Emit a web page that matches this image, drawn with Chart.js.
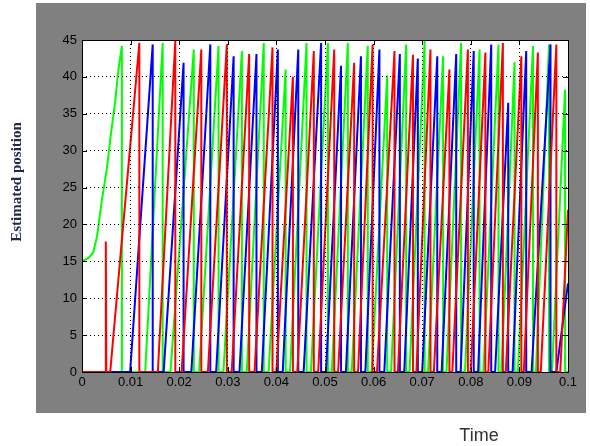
<!DOCTYPE html>
<html><head><meta charset="utf-8">
<script src="https://cdn.jsdelivr.net/npm/chart.js@4"></script>
<style>html,body{margin:0;padding:0;background:#fff;overflow:hidden}#wrap{width:590px;height:446px;position:relative}</style>
</head><body><div id="wrap"><canvas id="c"></canvas></div>
<script>
// ---- tick labels ----
const yTickValues = [0,5,10,15,20,25,30,35,40,45];
const xTickValues = [0,0.01,0.02,0.03,0.04,0.05,0.06,0.07,0.08,0.09,0.1];
const xTickLabels = ['0','0.01','0.02','0.03','0.04','0.05','0.06','0.07','0.08','0.09','0.1'];

// ---- green series ----
const greenInitT = [0,0.0014,0.0023,0.0031,0.0040,0.0051,0.0059,0.0068,0.0075,0.0082];
const greenInitV = [15,15.5,16.2,18.4,22.9,27.5,32.0,36.5,41.0,44.2];
const greenStart = [0.0130,0.0182,0.0241,0.0291,0.0339,0.0384,0.0428,0.0471,0.0514,0.0555,0.0596,0.0636,0.0674,0.0712,0.0750,0.0788,0.0826,0.0863,0.0897,0.0934,0.0967];
const greenPeakT = [0.0166,0.0230,0.0281,0.0329,0.0374,0.0419,0.0462,0.0506,0.0547,0.0588,0.0628,0.0667,0.0705,0.0743,0.0780,0.0818,0.0857,0.0890,0.0928,0.0961,0.0994];
const greenPeakV = [44.6,43.7,44.2,43.5,44.6,41.0,44.6,44.6,44.6,44.2,40.2,44.4,44.9,42.8,44.6,43.7,44.4,42.0,44.2,44.4,38.3];
const greenTailT = [];
const greenTailV = [];

// ---- red series ----
const redInitT = [0,0.0049,0.0049,0.0050];
const redInitV = [0,0,17.7,0];
const redStart = [0.0058,0.0156,0.0205,0.0259,0.0308,0.0355,0.0400,0.0443,0.0486,0.0527,0.0568,0.0607,0.0650,0.0688,0.0724,0.0762,0.0800,0.0836,0.0872,0.0909,0.0944];
const redPeakT = [0.0118,0.0192,0.02455,0.0298,0.0344,0.0392,0.0434,0.0477,0.0519,0.0560,0.0598,0.0643,0.0681,0.0717,0.0756,0.0794,0.0830,0.0866,0.0904,0.0938,0.0976];
const redPeakV = [44.6,44.9,43.7,44.4,43.1,44.0,40.0,43.5,43.7,41.9,44.4,43.5,43.0,43.7,41.0,43.7,43.3,44.6,42.8,43.3,44.4];
const redTailT = [0.0984,0.1];
const redTailV = [0,22];

// ---- blue series ----
const blueInitT = [0];
const blueInitV = [0];
const blueStart = [0.0099,0.0168,0.0225,0.0276,0.0324,0.0370,0.0413,0.0456,0.0502,0.0543,0.0583,0.0622,0.0663,0.0700,0.0740,0.0779,0.0815,0.0850,0.0886,0.0925];
const bluePeakT = [0.01455,0.0209,0.0264,0.0312,0.0359,0.0403,0.0445,0.0492,0.0533,0.0574,0.0612,0.0654,0.0691,0.0731,0.0770,0.0806,0.0842,0.0877,0.0914,0.0964];
const bluePeakV = [44.4,41.9,44.4,42.8,43.1,43.7,43.7,44.6,41.5,42.8,43.7,43.1,42.5,42.8,43.1,43.5,44.4,36.5,43.5,44.4];
const blueTailT = [0.0976,0.1];
const blueTailV = [0,12];

function buildSeries(initT, initV, starts, peakT, peakV, tailT, tailV) {
  const pts = [];
  initT.forEach((t,i)=>pts.push({x:t, y:initV[i]}));
  if (initV[initV.length-1] !== 0) pts.push({x:initT[initT.length-1], y:0});
  starts.forEach((s,i)=>{
    pts.push({x:s, y:0});
    pts.push({x:peakT[i], y:peakV[i]});
    pts.push({x:peakT[i], y:0});
  });
  if (tailT.length) tailT.forEach((t,i)=>pts.push({x:t, y:tailV[i]}));
  else pts.push({x:0.1, y:0});
  return pts;
}

const frame = {
  id:'frame',
  beforeDraw(chart){
    const {ctx, chartArea:a} = chart;
    ctx.save();
    ctx.fillStyle = '#ffffff';
    ctx.fillRect(0,0,chart.width,chart.height);
    ctx.fillStyle = '#808080';
    ctx.fillRect(36,3,550,410);
    ctx.fillStyle = '#ffffff';
    ctx.fillRect(a.left,a.top,a.right-a.left,a.bottom-a.top);
    ctx.restore();
  },
  afterDraw(chart){
    const {ctx, chartArea:a, scales} = chart;
    ctx.save();
    ctx.strokeStyle = '#000';
    ctx.lineWidth = 1;
    ctx.beginPath();
    const tl = 5;
    scales.x.ticks.forEach(t=>{
      const px = Math.round(scales.x.getPixelForValue(t.value))+0.5;
      ctx.moveTo(px,a.bottom); ctx.lineTo(px,a.bottom-tl);
      ctx.moveTo(px,a.top); ctx.lineTo(px,a.top+tl);
    });
    scales.y.ticks.forEach(t=>{
      const py = Math.round(scales.y.getPixelForValue(t.value))+0.5;
      ctx.moveTo(a.left,py); ctx.lineTo(a.left+tl,py);
      ctx.moveTo(a.right,py); ctx.lineTo(a.right-tl,py);
    });
    ctx.stroke();
    ctx.strokeRect(Math.round(a.left)+0.5, Math.round(a.top)+0.5, Math.round(a.right-a.left), Math.round(a.bottom-a.top));
    // axis titles
    ctx.fillStyle = '#23284f';
    ctx.font = 'bold 15px "Liberation Serif", "Times New Roman", serif';
    ctx.textAlign = 'center';
    ctx.textBaseline = 'middle';
    ctx.translate(17,182);
    ctx.rotate(-Math.PI/2);
    ctx.fillText('Estimated position',0,0);
    ctx.restore();
    ctx.save();
    ctx.fillStyle = '#333333';
    ctx.font = '18px "Liberation Sans", Arial, sans-serif';
    ctx.textAlign = 'center';
    ctx.textBaseline = 'middle';
    ctx.fillText('Time',479,436);
    ctx.restore();
  }
};

const lineOpts = {pointRadius:0, borderWidth:2, tension:0, fill:false};
const tickFont = {family:'"Liberation Sans", Arial, sans-serif', size:13};

new Chart(document.getElementById('c'), {
  type:'line',
  data:{datasets:[
    Object.assign({label:'red', data:buildSeries(redInitT,redInitV,redStart,redPeakT,redPeakV,redTailT,redTailV), borderColor:'#ff0000'}, lineOpts),
    Object.assign({label:'blue', data:buildSeries(blueInitT,blueInitV,blueStart,bluePeakT,bluePeakV,blueTailT,blueTailV), borderColor:'#0000ff'}, lineOpts),
    Object.assign({label:'green', data:buildSeries(greenInitT,greenInitV,greenStart,greenPeakT,greenPeakV,greenTailT,greenTailV), borderColor:'#00ff00'}, lineOpts)
  ]},
  options:{
    responsive:true, maintainAspectRatio:false, animation:false,
    layout:{padding:{left:0, top:40, right:22, bottom:0}},
    plugins:{legend:{display:false}, tooltip:{enabled:false}},
    scales:{
      x:{type:'linear', min:0, max:0.1,
        afterBuildTicks(s){ s.ticks = xTickValues.map(v=>({value:v})); },
        afterFit(s){ s.height = 74; },
        ticks:{color:'#000', font:tickFont, padding:3, maxRotation:0, autoSkip:false,
          callback:(v,i)=>xTickLabels[i]},
        grid:{color:'#000', lineWidth:1, drawTicks:false, z:1},
        border:{display:false, dash:[1,3]}
      },
      y:{type:'linear', min:0, max:45,
        afterBuildTicks(s){ s.ticks = yTickValues.map(v=>({value:v})); },
        afterFit(s){ s.width = 82; },
        ticks:{color:'#000', font:tickFont, padding:5, autoSkip:false,
          callback:(v)=>String(v)},
        grid:{color:'#000', lineWidth:1, drawTicks:false, z:1},
        border:{display:false, dash:[1,3]}
      }
    }
  },
  plugins:[frame]
});
</script></body></html>
